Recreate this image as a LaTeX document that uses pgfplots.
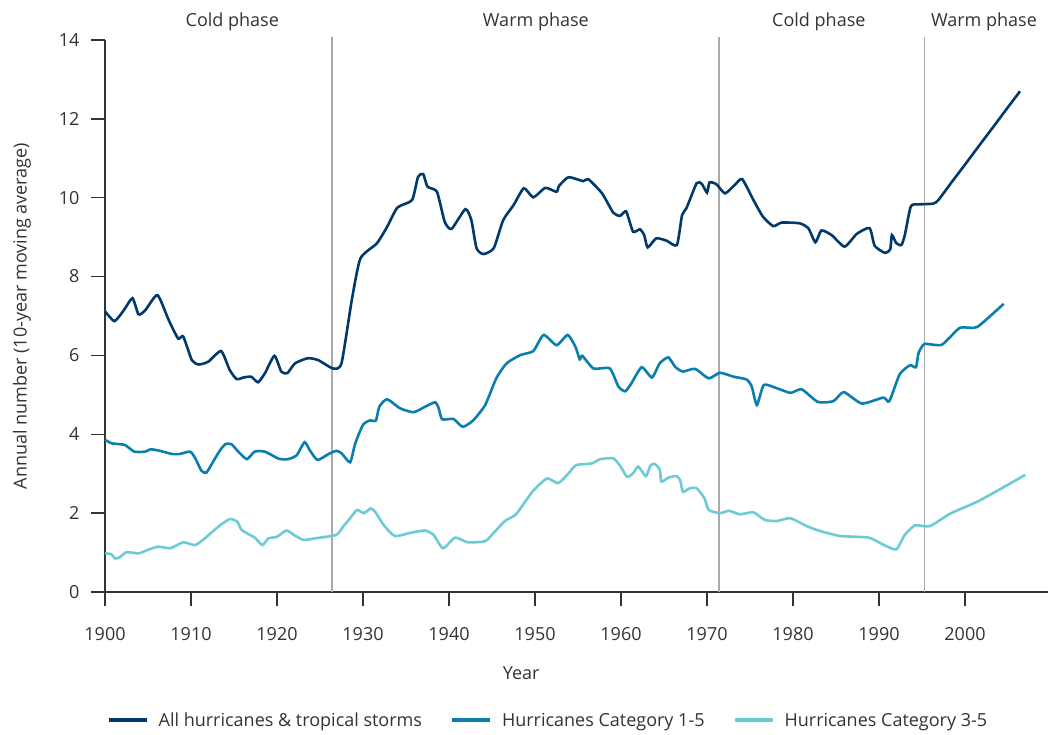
\documentclass[border=0pt]{standalone}
\usepackage{fontspec}
\setmainfont{Open Sans}
\usepackage{pgfplots}
\pgfplotsset{compat=1.18}
\definecolor{cdark}{HTML}{00396B}
\definecolor{cmid}{HTML}{0A7FAE}
\definecolor{clight}{HTML}{6DCBD5}
\definecolor{ctext}{HTML}{333333}
\definecolor{cvline}{HTML}{AAAAAA}
\newcommand{\ff}{\fontsize{18bp}{21bp}\selectfont}
\begin{document}
\begin{tikzpicture}
\useasboundingbox (-105bp,-143bp) rectangle (951bp,592bp);
\begin{axis}[
  at={(0,0)}, anchor=south west,
  scale only axis, width=943bp, height=552bp,
  xmin=1900, xmax=2009.65, ymin=0, ymax=14,
  xtick={1900,1910,...,2000}, ytick={0,2,...,14},
  axis x line*=bottom, axis y line*=left,
  axis line style={draw=ctext, line width=1.4bp, -},
  tick style={draw=ctext, line width=1.4bp},
  tick align=outside, major tick length=14bp,
  xticklabel style={font=\ff, text=ctext, yshift=-18bp},
  yticklabel style={font=\ff, text=ctext, xshift=-8bp},
  /pgf/number format/assume math mode=true,
  /pgf/number format/1000 sep={},
  clip=false,
  legend columns=3,
  legend style={draw=none, fill=none, font=\ff, text=ctext,
    at={(axis cs:1951.5,-3.25)}, anchor=center,
    /tikz/every odd column/.append style={column sep=8bp},
    /tikz/every even column/.append style={column sep=26bp}},
  legend image code/.code={\draw[#1, line width=4bp] (0bp,0bp) -- (38bp,0bp);},
  every axis plot/.append style={line width=2.6bp, smooth, tension=0.35},
]
\addplot[cvline, line width=1.2bp, sharp plot, forget plot] coordinates {(1926.4,0) (1926.4,14.07)};
\addplot[cvline, line width=1.2bp, sharp plot, forget plot] coordinates {(1971.4,0) (1971.4,14.07)};
\addplot[cvline, line width=1.2bp, sharp plot, forget plot] coordinates {(1995.3,0) (1995.3,14.07)};

\addplot[cdark] coordinates {
(1900.0,7.12) (1901.1,6.87) (1902.2,7.15) (1903.2,7.45) (1903.9,7.04) (1904.7,7.15)
(1906.1,7.53) (1907.4,6.90) (1908.5,6.43) (1909.1,6.48) (1910.1,5.88) (1910.9,5.77)
(1912.0,5.84) (1913.5,6.11) (1914.5,5.63) (1915.3,5.40) (1916.1,5.44) (1917.0,5.46)
(1917.8,5.32) (1918.6,5.55) (1919.7,5.99) (1920.5,5.59) (1921.2,5.55) (1922.1,5.80)
(1923.6,5.93) (1924.8,5.88) (1926.5,5.67) (1927.5,5.80) (1928.7,7.41) (1929.7,8.46)
(1931.6,8.84) (1932.8,9.26) (1934.0,9.75) (1935.7,9.94) (1936.4,10.53) (1937.0,10.60)
(1937.5,10.28) (1938.6,10.15) (1939.5,9.39) (1940.3,9.21) (1941.9,9.71) (1942.6,9.43)
(1943.2,8.72) (1944.0,8.57) (1945.2,8.72) (1946.3,9.43) (1947.5,9.81) (1948.7,10.24)
(1949.8,10.01) (1951.2,10.25) (1952.5,10.15) (1952.8,10.30) (1953.9,10.52) (1955.6,10.42)
(1956.2,10.47) (1957.8,10.11) (1959.1,9.62) (1959.9,9.54) (1960.6,9.65) (1961.4,9.14)
(1962.2,9.20) (1962.7,9.05) (1963.1,8.74) (1964.1,8.97) (1965.3,8.91) (1966.5,8.80)
(1967.1,9.56) (1967.6,9.73) (1968.8,10.37) (1969.4,10.35) (1970.0,10.13) (1970.3,10.39)
(1971.1,10.34) (1972.1,10.11) (1973.3,10.34) (1974.1,10.47) (1975.4,9.94) (1976.5,9.52)
(1977.7,9.28) (1978.7,9.37) (1980.8,9.35) (1981.8,9.22) (1982.6,8.87) (1983.3,9.17)
(1984.5,9.05) (1986.0,8.76) (1987.4,9.08) (1988.9,9.23) (1989.5,8.78) (1990.7,8.60)
(1991.3,8.69) (1991.5,9.05) (1992.0,8.85) (1992.6,8.80) (1993.0,9.05) (1993.7,9.78)
(1994.6,9.83) (1996.3,9.85) (1996.9,9.94) (1998.4,10.38) (2000.0,10.84) (2001.6,11.31)
(2003.2,11.77) (2004.8,12.24) (2006.4,12.70)
};
\addlegendentry{All hurricanes \& tropical storms}

\addplot[cmid] coordinates {
(1900.0,3.86) (1900.8,3.77) (1902.3,3.73) (1903.4,3.56) (1904.7,3.56) (1905.3,3.62)
(1906.4,3.58) (1907.8,3.50) (1908.7,3.50) (1909.9,3.56) (1910.5,3.39) (1911.2,3.08)
(1911.8,3.03) (1912.8,3.39) (1913.4,3.60) (1914.0,3.75) (1914.7,3.75) (1915.5,3.56)
(1916.5,3.37) (1917.4,3.56) (1918.6,3.56) (1920.2,3.38) (1921.3,3.37) (1922.3,3.47)
(1923.2,3.80) (1923.8,3.60) (1924.7,3.35) (1926.0,3.50) (1926.9,3.58) (1927.5,3.52)
(1928.5,3.29) (1929.1,3.77) (1930.0,4.24) (1930.8,4.35) (1931.5,4.35) (1931.9,4.70)
(1932.8,4.89) (1934.3,4.66) (1935.9,4.56) (1937.4,4.72) (1938.4,4.81) (1938.8,4.66)
(1939.2,4.38) (1940.5,4.39) (1941.6,4.19) (1942.8,4.35) (1944.2,4.74) (1945.5,5.42)
(1946.7,5.80) (1948.3,6.01) (1949.8,6.11) (1951.0,6.52) (1952.5,6.26) (1953.8,6.52)
(1954.7,6.22) (1955.2,5.90) (1955.5,5.99) (1956.8,5.67) (1958.7,5.67) (1959.7,5.21)
(1960.5,5.09) (1961.2,5.29) (1962.4,5.70) (1963.6,5.44) (1964.5,5.80) (1965.5,5.95)
(1966.3,5.71) (1967.2,5.59) (1968.6,5.66) (1970.2,5.42) (1971.5,5.56) (1973.1,5.46)
(1974.6,5.39) (1975.2,5.21) (1975.8,4.74) (1976.6,5.25) (1978.1,5.17) (1979.7,5.05)
(1981.0,5.14) (1982.9,4.82) (1984.7,4.84) (1985.9,5.07) (1988.0,4.78) (1990.5,4.93)
(1991.2,4.84) (1992.4,5.52) (1993.6,5.75) (1994.3,5.70) (1994.6,6.06) (1995.3,6.29)
(1997.3,6.27) (1999.4,6.70) (2001.4,6.72) (2004.5,7.31)
};
\addlegendentry{Hurricanes Category 1-5}

\addplot[clight] coordinates {
(1900.0,0.98) (1900.7,0.96) (1901.2,0.85) (1901.7,0.88) (1902.5,1.01) (1903.9,0.98)
(1905.0,1.07) (1906.2,1.15) (1907.6,1.11) (1909.1,1.26) (1910.5,1.19) (1911.6,1.36)
(1913.2,1.66) (1914.5,1.85) (1915.4,1.78) (1915.9,1.57) (1917.4,1.38) (1918.3,1.19)
(1919.0,1.36) (1920.0,1.40) (1921.1,1.56) (1922.1,1.43) (1923.1,1.32) (1924.4,1.36)
(1926.9,1.45) (1927.7,1.66) (1928.5,1.87) (1929.3,2.08) (1930.1,2.00) (1930.9,2.12)
(1931.4,2.04) (1932.4,1.70) (1933.7,1.42) (1935.5,1.50) (1937.2,1.56) (1938.2,1.45)
(1939.3,1.11) (1940.7,1.38) (1942.2,1.26) (1944.2,1.29) (1945.2,1.50) (1946.5,1.80)
(1947.7,1.95) (1948.6,2.21) (1949.8,2.57) (1951.4,2.88) (1952.7,2.76) (1953.9,3.01)
(1954.8,3.22) (1956.6,3.26) (1957.6,3.37) (1959.1,3.39) (1959.9,3.20) (1960.7,2.92)
(1961.4,3.01) (1962.0,3.18) (1962.9,2.94) (1963.4,3.20) (1963.9,3.25) (1964.5,3.11)
(1964.7,2.80) (1965.5,2.90) (1966.5,2.94) (1966.9,2.82) (1967.2,2.54) (1968.0,2.63)
(1968.8,2.63) (1969.7,2.38) (1970.2,2.08) (1971.5,2.00) (1972.6,2.06) (1973.8,1.97)
(1975.4,2.02) (1976.7,1.83) (1978.1,1.80) (1979.7,1.87) (1981.6,1.67) (1983.1,1.55)
(1985.5,1.42) (1988.8,1.38) (1990.5,1.20) (1992.0,1.08) (1993.0,1.45) (1994.2,1.69)
(1995.9,1.67) (1998.3,1.99) (2001.7,2.32) (2007.0,2.97)
};
\addlegendentry{Hurricanes Category 3-5}

\node[font=\ff, text=ctext] at (axis cs:1914.8,14.45) {Cold phase};
\node[font=\ff, text=ctext] at (axis cs:1950.1,14.45) {Warm phase};
\node[font=\ff, text=ctext] at (axis cs:1983.0,14.45) {Cold phase};
\node[font=\ff, text=ctext] at (axis cs:2002.2,14.45) {Warm phase};
\node[font=\ff, text=ctext] at (axis cs:1948.4,-2.05) {Year};
\node[font=\ff, text=ctext, rotate=90] at (axis cs:1890.35,7.0) {Annual number (10-year moving average)};
\end{axis}
\end{tikzpicture}
\end{document}
